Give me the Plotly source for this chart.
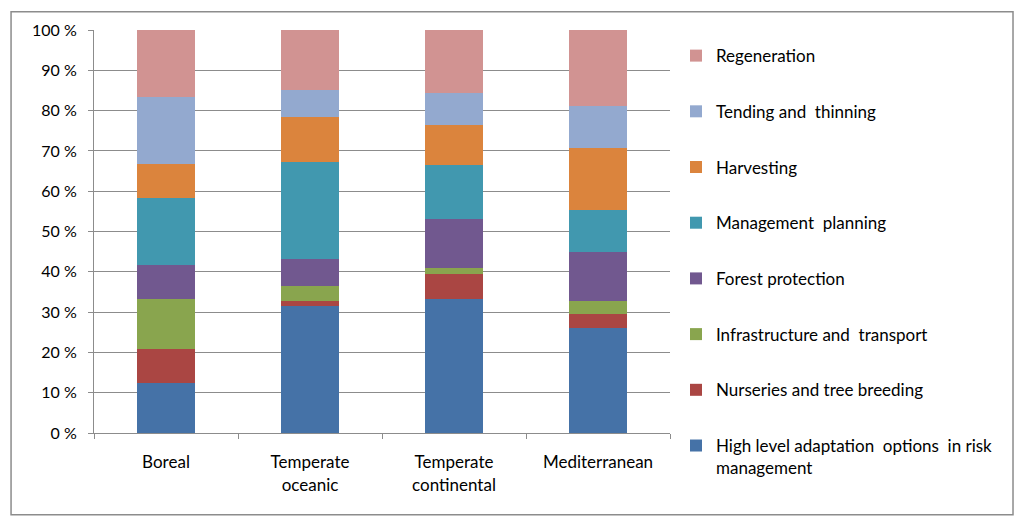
import plotly.graph_objects as go

# Regions on the x axis
regions = ["Boreal", "Temperate<br>oceanic", "Temperate<br>continental", "Mediterranean"]

# Share of each adaptation measure (%) per region
high_level = [12.5, 31.4, 33.3, 26.0]
nurseries = [8.3, 1.4, 6.1, 3.5]
infrastructure = [12.5, 3.7, 1.6, 3.3]
forest_protection = [8.4, 6.6, 12.0, 12.0]
management_planning = [16.6, 24.1, 13.6, 10.5]
harvesting = [8.4, 11.3, 9.9, 15.4]
tending = [16.6, 6.5, 7.8, 10.5]
regeneration = [16.7, 15.0, 15.7, 18.8]

series = [
    ("High level adaptation  options  in risk<br>management", high_level, "#4572A7"),
    ("Nurseries and tree breeding", nurseries, "#AA4643"),
    ("Infrastructure and  transport", infrastructure, "#89A54E"),
    ("Forest protection", forest_protection, "#71588F"),
    ("Management  planning", management_planning, "#4198AF"),
    ("Harvesting", harvesting, "#DB843D"),
    ("Tending and  thinning", tending, "#93A9CF"),
    ("Regeneration", regeneration, "#D19392"),
]

fig = go.Figure()
n = len(series)
for i, (name, vals, color) in enumerate(series):
    fig.add_trace(go.Bar(x=regions, y=vals, name=name, marker_color=color,
                         marker_line_width=0, legendgroup=str(i),
                         legendrank=n - i))

font = "Lato, 'Open Sans', sans-serif"

# the page puts the figure 8px in from the top-left corner
fig.update_layout(
    width=1024, height=532,
    barmode="stack", bargap=0.6,
    plot_bgcolor="white", paper_bgcolor="white",
    margin=dict(l=86, r=362, t=15, b=107),
    font=dict(family=font, size=17, color="#000000"),
    legend=dict(x=1.0104, xanchor="left", y=0.98, yanchor="top",
                tracegroupgap=30.6, maxheight=700,
                valign="top", font=dict(size=17)),
    xaxis=dict(showline=True, linecolor="#8c8c8c", linewidth=1,
               ticks="outside", tickson="boundaries", ticklen=5, tickcolor="#8c8c8c",
               ticklabelstandoff=14, tickfont=dict(size=17)),
    yaxis=dict(range=[0, 100], dtick=10, ticksuffix=" %",
               showline=True, linecolor="#8c8c8c", linewidth=1,
               showgrid=True, gridcolor="#8c8c8c", gridwidth=1,
               ticks="outside", ticklen=5, tickcolor="#8c8c8c",
               ticklabelstandoff=8, zeroline=False, tickfont=dict(size=16)),
)

# outer chart border
fig.add_shape(type="rect", xref="paper", yref="paper",
              x0=-0.144, x1=1.5955, y0=-0.203, y1=1.045,
              line=dict(color="#8c8c8c", width=1.5), layer="below")

fig.write_html("out.html")
